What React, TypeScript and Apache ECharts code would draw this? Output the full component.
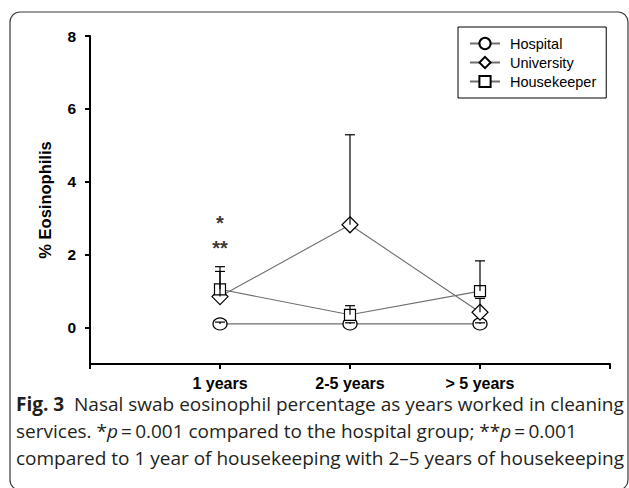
import React, { useEffect, useRef } from "react";
import * as echarts from "echarts";

const categories = ["1 years", "2-5 years", "> 5 years"];
const xPositions = [1, 2, 3];
const hospital = [0.1, 0.1, 0.1];
const university = [0.85, 2.82, 0.42];
const housekeeper = [1.05, 0.35, 1.0];
const hospitalErrTop = [0.15, 0.13, 0.13];
const universityErrTop = [1.54, 5.29, 0.8];
const housekeeperErrTop = [1.67, 0.6, 1.83];
const yTicks = [0, 2, 4, 6, 8];
const xTicks = [0, 1, 2, 3, 4];
const starLabels = ["*", "**"];
const starValues = [2.88, 2.18];
const starX = [1, 1];

const AXIS_FONT = "'Liberation Sans', Arial, Helvetica, sans-serif";
const CAP_FONT = "'Open Sans', 'Noto Sans', sans-serif";

export default function App() {
  const ref = useRef<HTMLDivElement>(null);
  useEffect(() => {
    document.body.style.margin = "0";
    const chart = echarts.init(ref.current!, undefined, { renderer: "svg" });
    const mk = (vals: number[]) => vals.map((v, i) => [xPositions[i], v]);
    const errData: number[][] = [];
    [
      [hospital, hospitalErrTop],
      [university, universityErrTop],
      [housekeeper, housekeeperErrTop],
    ].forEach(([m, t]) => {
      m.forEach((v, i) => errData.push([xPositions[i], v, t[i]]));
    });
    const markerStyle = { color: "#fff", borderColor: "#000", borderWidth: 1.2 };
    const lineStyle = { color: "#6e6e6e", width: 1.1 };
    const option: any = {
      animation: false,
      backgroundColor: "#fff",
      grid: { left: 90, right: 19, top: 36, bottom: 124 },
      legend: {
        data: ["Hospital", "University", "Housekeeper"],
        orient: "vertical",
        left: 458,
        top: 27,
        padding: [9, 10, 9, 11],
        itemGap: 4,
        itemWidth: 30,
        itemHeight: 14,
        borderColor: "#000",
        borderWidth: 1,
        backgroundColor: "#fff",
        textStyle: { fontFamily: AXIS_FONT, fontSize: 14.5, color: "#000", padding: [0, 0, 0, 5] },
      },
      xAxis: {
        type: "value",
        min: 0,
        max: 4,
        splitLine: { show: false },
        axisLine: { onZero: false, lineStyle: { color: "#000", width: 2 } },
        axisTick: { customValues: xTicks, length: 5, lineStyle: { color: "#000", width: 2 } },
        axisLabel: {
          customValues: xPositions,
          formatter: (v: number) => categories[Math.round(v) - 1] ?? "",
          margin: 11,
          fontFamily: AXIS_FONT,
          fontWeight: "bold",
          fontSize: 16,
          color: "#000",
        },
      },
      yAxis: {
        type: "value",
        min: -1,
        max: 8,
        name: "% Eosinophilis",
        nameLocation: "middle",
        nameGap: 37,
        nameTextStyle: { fontFamily: AXIS_FONT, fontWeight: "bold", fontSize: 16.5, color: "#000" },
        splitLine: { show: false },
        axisLine: { onZero: false, lineStyle: { color: "#000", width: 2 } },
        axisTick: { customValues: yTicks, length: 5, lineStyle: { color: "#000", width: 2 } },
        axisLabel: {
          customValues: yTicks,
          margin: 14,
          fontFamily: AXIS_FONT,
          fontWeight: "bold",
          fontSize: 15.5,
          color: "#000",
        },
      },
      series: [
        {
          name: "Hospital",
          type: "line",
          data: mk(hospital),
          symbol: "circle",
          symbolSize: [14, 12],
          itemStyle: markerStyle,
          lineStyle,
          z: 2,
        },
        {
          name: "University",
          type: "line",
          data: mk(university),
          symbol: "diamond",
          symbolSize: [16, 16],
          itemStyle: markerStyle,
          lineStyle,
          z: 2,
        },
        {
          name: "Housekeeper",
          type: "line",
          data: mk(housekeeper),
          symbol: "rect",
          symbolSize: [11, 11],
          itemStyle: markerStyle,
          lineStyle,
          z: 2,
        },
        {
          name: "err",
          type: "custom",
          z: 3,
          data: errData,
          renderItem: (_p: any, api: any) => {
            const a = api.coord([api.value(0), api.value(1)]);
            const b = api.coord([api.value(0), api.value(2)]);
            const st = { stroke: "#000", lineWidth: 1.2 };
            return {
              type: "group",
              children: [
                { type: "line", shape: { x1: a[0], y1: a[1], x2: b[0], y2: b[1] }, style: st },
                { type: "line", shape: { x1: b[0] - 5, y1: b[1], x2: b[0] + 5, y2: b[1] }, style: st },
              ],
            };
          },
        },
        {
          name: "stars",
          type: "scatter",
          symbolSize: 1,
          itemStyle: { color: "rgba(0,0,0,0)" },
          data: starValues.map((v, i) => ({ value: [starX[i], v], label: { formatter: starLabels[i] } })),
          label: {
            show: true,
            position: "inside",
            fontFamily: AXIS_FONT,
            fontWeight: "bold",
            fontSize: 20,
            color: "#000",
          },
          z: 4,
        },
      ],
      graphic: [
        {
          type: "rect",
          shape: { x: 10, y: 12, width: 618, height: 478, r: 10 },
          style: { fill: "none", stroke: "#3a3a3a", lineWidth: 1.2 },
          silent: true,
          z: -10,
        },
        {
          type: "text",
          x: 16,
          y: 404,
          style: {
            text: "{b|Fig. 3}  Nasal swab eosinophil percentage as years worked in cleaning",
            fontFamily: CAP_FONT,
            fontSize: 19,
            fill: "#231f20",
            verticalAlign: "middle",
            rich: { b: { fontFamily: CAP_FONT, fontSize: 19, fontWeight: "bold", fill: "#231f20" } },
          },
        },
        {
          type: "text",
          x: 16,
          y: 431,
          style: {
            text: "services. *{i|p}\u2009=\u20090.001 compared to the hospital group; **{i|p}\u2009=\u20090.001",
            fontFamily: CAP_FONT,
            fontSize: 19,
            fill: "#231f20",
            verticalAlign: "middle",
            rich: { i: { fontFamily: CAP_FONT, fontSize: 19, fontStyle: "italic", fill: "#231f20" } },
          },
        },
        {
          type: "text",
          x: 16,
          y: 458,
          style: {
            text: "compared to 1 year of housekeeping with 2\u20135 years of housekeeping",
            fontFamily: CAP_FONT,
            fontSize: 19,
            fill: "#231f20",
            verticalAlign: "middle",
          },
        },
      ],
    };
    chart.setOption(option);
    return () => chart.dispose();
  }, []);
  return <div ref={ref} style={{ width: 629, height: 488 }} />;
}
